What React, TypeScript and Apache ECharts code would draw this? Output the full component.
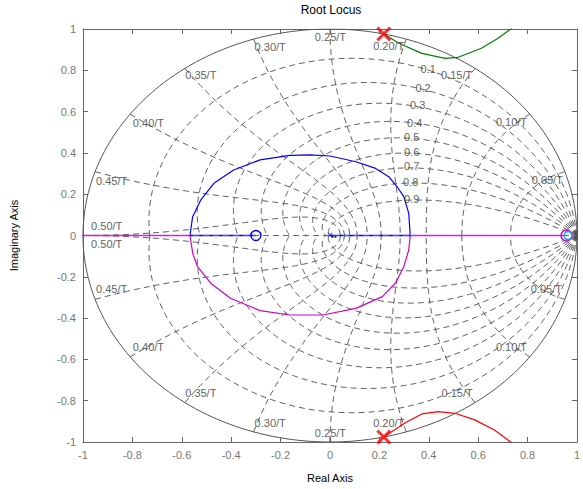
import React, { useEffect, useRef } from "react";
import * as echarts from "echarts";

// ---- data ----
const dampingRatios = [0.1, 0.2, 0.3, 0.4, 0.5, 0.6, 0.7, 0.8, 0.9];
const natFreqSteps = [1, 2, 3, 4, 5, 6, 7, 8, 9, 10]; // wn = k*pi/10
const dampingLabels = ["0.1", "0.2", "0.3", "0.4", "0.5", "0.6", "0.7", "0.8", "0.9"];
const dampingLabelPos = [
  [0.398, 0.806], [0.377, 0.714], [0.355, 0.632], [0.343, 0.545], [0.331, 0.477],
  [0.331, 0.404], [0.331, 0.337], [0.327, 0.259], [0.331, 0.177],
];
const freqLabels = [
  "0.05/T", "0.10/T", "0.15/T", "0.20/T", "0.25/T", "0.30/T", "0.35/T", "0.40/T", "0.45/T", "0.50/T",
];
const freqLabelPosTop = [
  [0.88, 0.269], [0.735, 0.55], [0.513, 0.777], [0.238, 0.918], [0.002, 0.961],
  [-0.242, 0.913], [-0.523, 0.777], [-0.735, 0.545], [-0.884, 0.264], [-0.904, 0.046],
];
const freqLabelPosBottom = [
  [0.876, -0.259], [0.735, -0.54], [0.515, -0.763], [0.238, -0.908], [0.002, -0.956],
  [-0.242, -0.908], [-0.523, -0.763], [-0.735, -0.54], [-0.884, -0.259], [-0.904, -0.041],
];

const blueArc = [
  [0.325, 0], [0.319, 0.107], [0.299, 0.188], [0.272, 0.236], [0.238, 0.285], [0.185, 0.325],
  [0.105, 0.357], [0.0, 0.385], [-0.08, 0.39], [-0.162, 0.388], [-0.283, 0.366], [-0.39, 0.317],
  [-0.47, 0.253], [-0.523, 0.172], [-0.556, 0.091], [-0.567, 0],
];
const magentaArc = [
  [-0.567, 0], [-0.555, -0.09], [-0.536, -0.151], [-0.483, -0.231], [-0.403, -0.304],
  [-0.283, -0.364], [-0.162, -0.385], [-0.029, -0.385], [0.105, -0.353], [0.212, -0.296],
  [0.265, -0.231], [0.299, -0.151], [0.319, -0.07], [0.325, 0],
];
const blueReal1 = [[-0.567, 0], [-0.3, 0]];
const blueReal2 = [[0.0, 0], [0.325, 0]];
const magentaReal1 = [[-1.1, 0], [-0.567, 0]];
const magentaReal2 = [[0.325, 0], [0.96, 0]];
const greenBranch = [
  [0.218, 0.976], [0.279, 0.931], [0.372, 0.882], [0.466, 0.858], [0.519, 0.863],
  [0.613, 0.907], [0.679, 0.954], [0.735, 1.003], [0.76, 1.03],
];
const redBranch = [
  [0.218, -0.976], [0.305, -0.907], [0.372, -0.864], [0.439, -0.853], [0.506, -0.861],
  [0.586, -0.893], [0.666, -0.942], [0.739, -1.006], [0.76, -1.03],
];
const bigPoles = [[0.218, 0.976], [0.218, -0.976]];
const originPoles = [[0.0, 0.003]];
const originDots = [[0.01, -0.006], [0.022, -0.006]];
const zeroBlue = [[-0.3, 0]];
const zeroMagenta = [[0.958, 0]];
const zeroCyan = [[0.963, 0]];

const xTicks = { min: -1, max: 1, interval: 0.2 };

// ---- zgrid geometry ----
function dampingCurve(zeta: number, sign: number) {
  const pts: number[][] = [];
  const c = Math.sqrt(1 - zeta * zeta);
  const wMax = Math.PI / c;
  const N = 120;
  for (let i = 0; i <= N; i++) {
    const w = (wMax * i) / N;
    const r = Math.exp(-zeta * w);
    pts.push([r * Math.cos(w * c), sign * r * Math.sin(w * c)]);
  }
  return pts;
}
function freqCurve(k: number, sign: number) {
  const wn = (k * Math.PI) / 10;
  const pts: number[][] = [];
  const N = 60;
  for (let i = 0; i <= N; i++) {
    const z = i / N;
    const r = Math.exp(-z * wn);
    const a = wn * Math.sqrt(1 - z * z);
    pts.push([r * Math.cos(a), sign * r * Math.sin(a)]);
  }
  return pts;
}

const X_PATH = "path://M2,0 L7,5 L12,0 L14,2 L9,7 L14,12 L12,14 L7,9 L2,14 L0,12 L5,7 L0,2 Z";

export default function App() {
  const ref = useRef<HTMLDivElement>(null);
  useEffect(() => {
    if (!ref.current) return;
    const chart = echarts.init(ref.current, undefined, { renderer: "svg" });
    const gridColor = "#4d4d4d";
    const dash = [6, 4];
    const series: any[] = [];
    const line = (data: number[][], color: string, width: number, type: any, z = 2) => ({
      type: "line",
      data,
      showSymbol: false,
      silent: true,
      smooth: false,
      z,
      lineStyle: { color, width, type },
    });
    for (const s of [1, -1]) {
      series.push(line(dampingCurve(0, s), "#555555", 1, "solid", 1));
      for (const z of dampingRatios) series.push(line(dampingCurve(z, s), gridColor, 0.9, dash, 1));
      for (const k of natFreqSteps) series.push(line(freqCurve(k, s), gridColor, 0.9, dash, 1));
    }
    series.push(line(blueArc, "#0000ff", 1.2, "solid", 3));
    series.push(line(magentaArc, "#cc00cc", 1.2, "solid", 3));
    series.push(line(blueReal1, "#0000ff", 1.5, "solid", 3));
    series.push(line(blueReal2, "#0000ff", 1.5, "solid", 3));
    series.push(line(magentaReal1, "#dd22dd", 1.5, "solid", 3));
    series.push(line(magentaReal2, "#dd22dd", 1.5, "solid", 3));
    series.push(line(greenBranch, "#008000", 1.2, "solid", 3));
    series.push(line(redBranch, "#ff0000", 1.2, "solid", 3));
    series.push(line([[-1, 0], [1, 0]], "#666666", 1, dash, 4));

    const scatter = (data: number[][], symbol: string, size: number, itemStyle: any) => ({
      type: "scatter",
      data,
      symbol,
      symbolSize: size,
      silent: true,
      z: 6,
      itemStyle,
    });
    const ring = (data: number[][], size: number, color: string) => ({
      type: "scatter",
      data,
      symbol: "circle",
      symbolSize: size,
      silent: true,
      z: 6,
      itemStyle: { color: "rgba(0,0,0,0)", borderColor: color, borderWidth: 1.4, opacity: 1 },
    });
    series.push(scatter(bigPoles, X_PATH, 15, { color: "#ff0000" }));
    series.push(scatter(originPoles, X_PATH, 5, { color: "#0000ff" }));
    series.push(scatter(originDots, "rect", 2, { color: "#000000" }));
    series.push(ring(zeroBlue, 10, "#0000ff"));
    series.push(ring(zeroMagenta, 11, "#cc00cc"));
    series.push(ring(zeroCyan, 8, "#00bbdd"));

    const labelSeries = (pos: number[][], texts: string[]) => ({
      type: "scatter",
      data: pos.map((p, i) => ({ value: p, name: texts[i] })),
      symbolSize: 1,
      silent: true,
      z: 7,
      itemStyle: { color: "transparent" },
      label: {
        show: true,
        position: "inside",
        formatter: (p: any) => p.name,
        color: "#333333",
        fontSize: 11,
        fontFamily: "Liberation Sans, Arial, sans-serif",
      },
    });
    series.push(labelSeries(dampingLabelPos, dampingLabels));
    series.push(labelSeries(freqLabelPosTop, freqLabels));
    series.push(labelSeries(freqLabelPosBottom, freqLabels));

    const axisCommon = {
      type: "value",
      min: xTicks.min,
      max: xTicks.max,
      interval: xTicks.interval,
      splitLine: { show: false },
      axisLine: { show: true, onZero: false, lineStyle: { color: "#666666", width: 1 } },
      axisTick: { show: true, inside: true, length: 5, lineStyle: { color: "#666666" } },
    };
    const labelStyle = { color: "#777777", fontSize: 11, fontFamily: "Liberation Sans, Arial, sans-serif" };

    chart.setOption({
      animation: false,
      grid: { left: 81, right: 3, top: 29, bottom: 47 },
      graphic: [
        {
          type: "text",
          x: 331,
          y: 4,
          style: {
            text: "Root Locus",
            fill: "#000",
            fontSize: 12,
            fontFamily: "Liberation Sans, Arial, sans-serif",
            textAlign: "center",
          },
        },
      ],
      xAxis: [
        {
          ...axisCommon,
          position: "bottom",
          axisLabel: { ...labelStyle, margin: 7 },
          name: "Real Axis",
          nameLocation: "middle",
          nameGap: 30,
          nameTextStyle: { color: "#000", fontSize: 11, fontFamily: "Liberation Sans, Arial, sans-serif" },
        },
        { ...axisCommon, position: "top", axisLabel: { show: false } },
      ],
      yAxis: [
        {
          ...axisCommon,
          position: "left",
          axisLabel: { ...labelStyle, margin: 7 },
          name: "Imaginary Axis",
          nameLocation: "middle",
          nameGap: 64,
          nameTextStyle: { color: "#000", fontSize: 11, fontFamily: "Liberation Sans, Arial, sans-serif" },
        },
        { ...axisCommon, position: "right", axisLabel: { show: false } },
      ],
      series,
    });
    return () => chart.dispose();
  }, []);
  return (
    <div
      ref={ref}
      style={{ position: "absolute", left: 0, top: 0, width: 583, height: 489, background: "#fff" }}
    />
  );
}
